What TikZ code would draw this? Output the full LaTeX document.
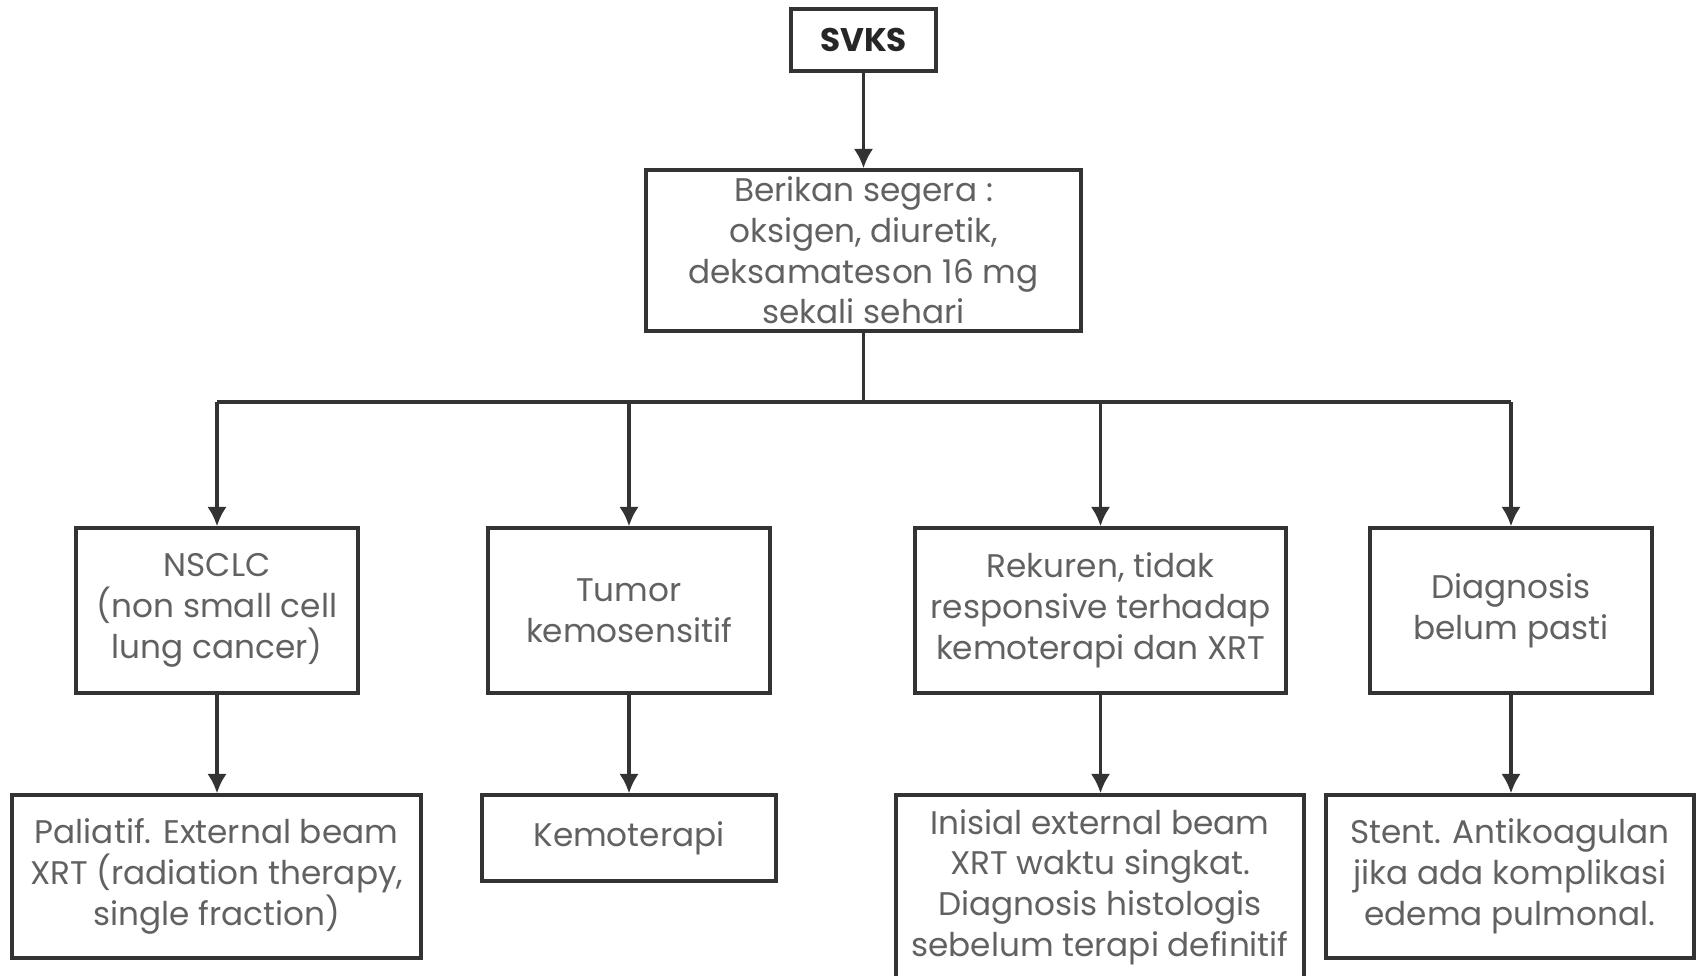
\documentclass[tikz,border=0pt]{standalone}
\usepackage{fontspec}
\setmainfont{Poppins}
\usetikzlibrary{arrows.meta}
\usetikzlibrary{calc}
\tikzstyle{kotak} = [draw=black!80, line width=0.95pt, align=center, inner sep=0pt, text=black!62, font=\fontsize{9.3}{11.6}\selectfont]
\tikzstyle{garis} = [draw=black!80, line width=0.95pt]
\tikzstyle{panah} = [draw=black!80, line width=0.95pt, -{Latex[length=5.5pt,width=5.5pt]}]

\begin{document}
\begin{tikzpicture}[x=0.01cm, y=-0.01cm]
  \useasboundingbox (0,0) rectangle (1697,976);
  \clip (0,0) rectangle (1697,976);
  % atas
  \node[kotak, minimum width=1.45cm, minimum height=0.62cm, text=black!85, font=\fontsize{9.3}{11.6}\selectfont\bfseries] (svks) at (863.5,40) {SVKS};
  \node[kotak, minimum width=4.35cm, minimum height=1.61cm] (berikan) at (863.5,250.5)
    {Berikan segera :\\oksigen, diuretik,\\deksamateson 16 mg\\sekali sehari};
  % baris kedua
  \node[kotak, minimum width=2.82cm, minimum height=1.65cm] (nsclc) at (217,610.5)
    {NSCLC\\(non small cell\\lung cancer)};
  \node[kotak, minimum width=2.82cm, minimum height=1.65cm] (tumor) at (629,610.5)
    {Tumor\\kemosensitif};
  \node[kotak, minimum width=3.71cm, minimum height=1.65cm] (rekuren) at (1100.5,610.5)
    {Rekuren, tidak\\responsive terhadap\\kemoterapi dan XRT};
  \node[kotak, minimum width=2.82cm, minimum height=1.65cm] (diag) at (1511,610.5)
    {Diagnosis\\belum pasti};
  % baris ketiga
  \node[kotak, minimum width=4.09cm, minimum height=1.63cm] (paliatif) at (216.5,876.5)
    {Paliatif. External beam\\XRT (radiation therapy,\\single fraction)};
  \node[kotak, minimum width=2.94cm, minimum height=0.86cm] (kemo) at (629,838)
    {Kemoterapi};
  \node[kotak, minimum width=4.08cm, minimum height=1.84cm] (inisial) at (1100,887)
    {Inisial external beam\\XRT waktu singkat.\\Diagnosis histologis\\sebelum terapi definitif};
  \node[kotak, minimum width=3.68cm, minimum height=1.63cm] (stent) at (1510,876.5)
    {Stent. Antikoagulan\\jika ada komplikasi\\edema pulmonal.};
  % panah
  \draw[panah] (svks) -- (berikan);
  \coordinate (cabang) at (863.5,402);
  \draw[garis] (berikan) -- (cabang);
  \draw[garis] (nsclc.north |- cabang) -- (diag.north |- cabang);
  \foreach \n in {nsclc,tumor,rekuren,diag}
    \draw[panah] (\n.north |- cabang) -- (\n);
  \draw[panah] (nsclc) -- (nsclc |- paliatif.north);
  \draw[panah] (tumor) -- (tumor |- kemo.north);
  \draw[panah] (rekuren) -- (rekuren |- inisial.north);
  \draw[panah] (diag) -- (diag |- stent.north);
\end{tikzpicture}
\end{document}
